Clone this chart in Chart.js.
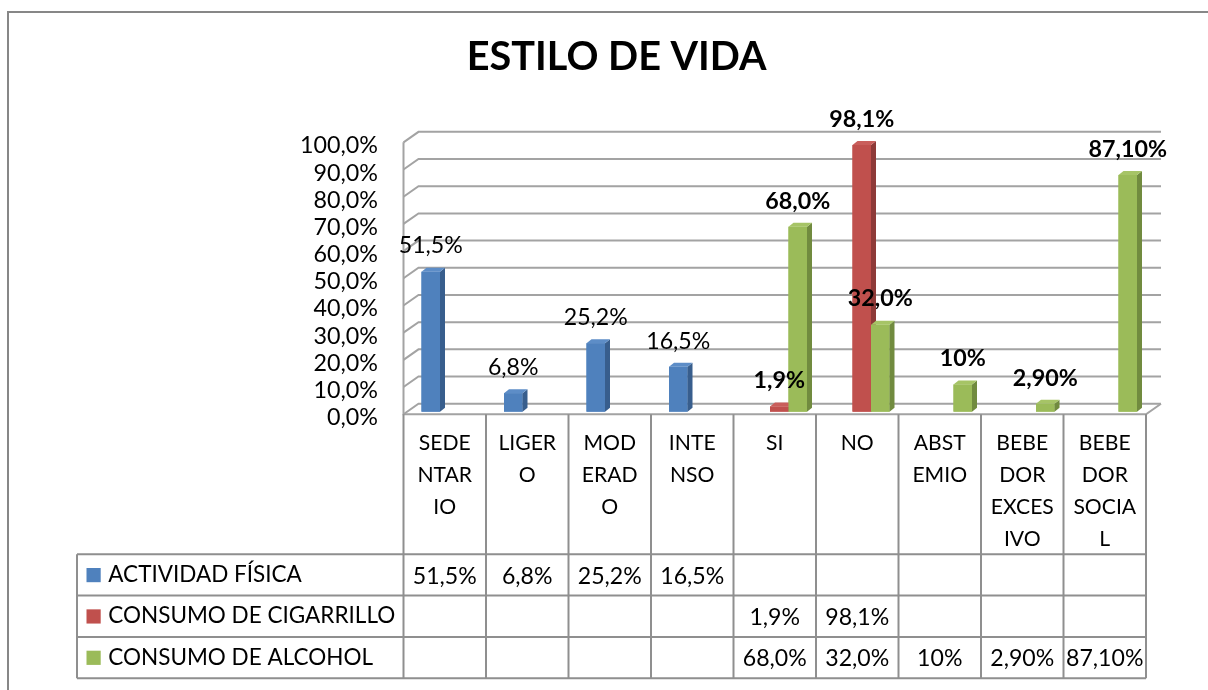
<!DOCTYPE html>
<html>
<head>
<meta charset="utf-8">
<script src="https://cdn.jsdelivr.net/npm/chart.js@4.4.1/dist/chart.umd.min.js"></script>
<style>
html,body{margin:0;padding:0;background:#fff;}
canvas{display:block;}
</style>
</head>
<body>
<canvas id="c" width="1208" height="690"></canvas>
<script>
// ---------------- DATA ----------------
const chartTitle = "ESTILO DE VIDA";
const categories = [
  ["SEDE","NTAR","IO"], ["LIGER","O"], ["MOD","ERAD","O"], ["INTE","NSO"],
  ["SI"], ["NO"], ["ABST","EMIO"], ["BEBE","DOR","EXCES","IVO"], ["BEBE","DOR","SOCIA","L"]
];
const seriesNames = ["ACTIVIDAD FÍSICA", "CONSUMO DE CIGARRILLO", "CONSUMO DE ALCOHOL"];
const actividadFisica   = [51.5, 6.8, 25.2, 16.5, null, null, null, null, null];
const consumoCigarrillo = [null, null, null, null, 1.9, 98.1, null, null, null];
const consumoAlcohol    = [null, null, null, null, 68.0, 32.0, 10, 2.9, 87.1];
const actividadLabels   = ["51,5%", "6,8%", "25,2%", "16,5%", "", "", "", "", ""];
const cigarrilloLabels  = ["", "", "", "", "1,9%", "98,1%", "", "", ""];
const alcoholLabels     = ["", "", "", "", "68,0%", "32,0%", "10%", "2,90%", "87,10%"];
const yTickLabels = ["0,0%","10,0%","20,0%","30,0%","40,0%","50,0%","60,0%","70,0%","80,0%","90,0%","100,0%"];

// ---------------- STYLE ----------------
const FAMILY = 'Lato, "Open Sans", sans-serif';
const frontColors = ["#4f81bd", "#c0504d", "#9bbb59"];
const sideColors  = ["#385e8d", "#8e3a38", "#718b3f"];
const topColors   = ["#5d8dc7", "#c95e5b", "#a6c466"];
const labelBold   = [false, true, true];
const seriesLabels = [actividadLabels, cigarrilloLabels, alcoholLabels];

const mctx = document.createElement('canvas').getContext('2d');
function fitSize(text, target, weight) {
  mctx.font = weight + ' 100px ' + FAMILY;
  return 100 * target / mctx.measureText(text).width;
}
const titleSize  = fitSize(chartTitle, 300, 'bold');
const tickSize   = fitSize("100,0%", 78, 'normal');
const rowSize    = fitSize(seriesNames[1], 287, 'normal');
const headSize   = fitSize("SEDE", 52, 'normal');
const valSize    = fitSize("51,5%", 64, 'normal');
const labNSize   = fitSize("51,5%", 64, 'normal');
const labBSize   = fitSize("87,10%", 78.5, 'bold');

const WALL = {fx: -4.5, fy: 2.5, bx: 10.5, by: -8};
const BAR3D = {dx: 5, dy: -4};

const deco = {
  id: 'deco',
  beforeDraw(chart) {
    const ctx = chart.ctx;
    ctx.save();
    ctx.fillStyle = '#fff';
    ctx.fillRect(0, 0, chart.width, chart.height);
    ctx.strokeStyle = '#878787';
    ctx.lineWidth = 2;
    ctx.beginPath();
    ctx.moveTo(8, chart.height); ctx.lineTo(8, 12); ctx.lineTo(chart.width, 12);
    ctx.stroke();
    ctx.fillStyle = '#000';
    ctx.font = 'bold ' + titleSize + 'px ' + FAMILY;
    ctx.textAlign = 'center';
    ctx.textBaseline = 'alphabetic';
    ctx.fillText(chartTitle, 616.7, 70);
    ctx.restore();
  },
  beforeDatasetsDraw(chart) {
    const {ctx, chartArea: {left, right}, scales: {y}} = chart;
    ctx.save();
    ctx.strokeStyle = '#a3a3a3';
    ctx.lineWidth = 2;
    y.ticks.forEach(t => {
      const py = y.getPixelForValue(t.value);
      ctx.beginPath();
      ctx.moveTo(left + WALL.fx, py + WALL.fy);
      ctx.lineTo(left + WALL.bx, py + WALL.by);
      ctx.lineTo(right + WALL.bx, py + WALL.by);
      ctx.stroke();
    });
    const y0 = y.getPixelForValue(0), y1 = y.getPixelForValue(100);
    ctx.beginPath();
    ctx.moveTo(left + WALL.fx, y1 + WALL.fy);
    ctx.lineTo(left + WALL.fx, y0 + WALL.fy);
    ctx.lineTo(right + WALL.fx, y0 + WALL.fy);
    ctx.lineTo(right + WALL.bx, y0 + WALL.by);
    ctx.stroke();
    ctx.restore();
  },
  afterDatasetsDraw(chart) {
    const ctx = chart.ctx;
    // 3D faces, drawn series by series so the next series' front covers previous side
    chart.data.datasets.forEach((ds, i) => {
      const meta = chart.getDatasetMeta(i);
      meta.data.forEach((el, j) => {
        if (ds.data[j] == null) return;
        const {x, y, base, width} = el.getProps(['x', 'y', 'base', 'width'], true);
        el.draw(ctx);
        const l = x - width / 2, r = x + width / 2;
        ctx.save();
        ctx.fillStyle = sideColors[i];
        ctx.beginPath();
        ctx.moveTo(r, y); ctx.lineTo(r + BAR3D.dx, y + BAR3D.dy);
        ctx.lineTo(r + BAR3D.dx, base + BAR3D.dy); ctx.lineTo(r, base);
        ctx.closePath(); ctx.fill();
        ctx.fillStyle = topColors[i];
        ctx.beginPath();
        ctx.moveTo(l, y); ctx.lineTo(l + BAR3D.dx, y + BAR3D.dy);
        ctx.lineTo(r + BAR3D.dx, y + BAR3D.dy); ctx.lineTo(r, y);
        ctx.closePath(); ctx.fill();
        ctx.restore();
      });
    });
    // data labels
    ctx.save();
    ctx.fillStyle = '#000';
    ctx.textAlign = 'center';
    ctx.textBaseline = 'alphabetic';
    chart.data.datasets.forEach((ds, i) => {
      const meta = chart.getDatasetMeta(i);
      ctx.font = (labelBold[i] ? 'bold ' + labBSize : labNSize) + 'px ' + FAMILY;
      meta.data.forEach((el, j) => {
        if (ds.data[j] == null) return;
        const {x, y} = el.getProps(['x', 'y'], true);
        ctx.fillText(seriesLabels[i][j], x, y - 18.3);
      });
    });
    ctx.restore();

    // data table
    const xs = chart.scales.x;
    const {left, right, bottom} = chart.chartArea;
    const n = categories.length;
    const cw = (right - left) / n;
    const top = bottom + WALL.fy;
    const headH = 140, rowH = 41.35, tableLeft = 77;
    const tBottom = top + headH + 3 * rowH;
    const colX = i => xs.getPixelForValue(i) - cw / 2 + WALL.fx;
    ctx.save();
    ctx.strokeStyle = '#8f8f8f';
    ctx.lineWidth = 2;
    ctx.beginPath();
    for (let i = 0; i <= n; i++) {
      const cx = i < n ? colX(i) : colX(n - 1) + cw;
      ctx.moveTo(cx, top); ctx.lineTo(cx, tBottom);
    }
    for (let r = 0; r <= 3; r++) {
      const ry = top + headH + r * rowH;
      ctx.moveTo(tableLeft, ry); ctx.lineTo(colX(n - 1) + cw, ry);
    }
    ctx.moveTo(tableLeft, top + headH); ctx.lineTo(tableLeft, tBottom);
    ctx.stroke();

    ctx.fillStyle = '#000';
    ctx.textBaseline = 'alphabetic';
    ctx.textAlign = 'center';
    ctx.font = headSize + 'px ' + FAMILY;
    categories.forEach((lines, i) => {
      const cx = colX(i) + cw / 2;
      lines.forEach((ln, k) => ctx.fillText(ln, cx, top + 36 + k * 32));
    });
    ctx.font = valSize + 'px ' + FAMILY;
    seriesLabels.forEach((labs, r) => {
      const ry = top + headH + r * rowH;
      labs.forEach((t, i) => {
        if (!t) return;
        ctx.fillText(t, colX(i) + cw / 2, ry + 29.3);
      });
    });
    ctx.textAlign = 'left';
    ctx.font = rowSize + 'px ' + FAMILY;
    seriesNames.forEach((name, r) => {
      const ry = top + headH + r * rowH;
      ctx.fillStyle = frontColors[r];
      ctx.fillRect(86.5, ry + 13.8, 14.2, 14.2);
      ctx.fillStyle = '#000';
      ctx.fillText(name, 108.3, ry + 27.6);
    });
    ctx.restore();
  }
};

Chart.defaults.font.family = FAMILY;
new Chart(document.getElementById('c'), {
  type: 'bar',
  data: {
    labels: categories,
    datasets: [
      {label: seriesNames[0], data: actividadFisica, backgroundColor: frontColors[0]},
      {label: seriesNames[1], data: consumoCigarrillo, backgroundColor: frontColors[1]},
      {label: seriesNames[2], data: consumoAlcohol, backgroundColor: frontColors[2]}
    ]
  },
  options: {
    responsive: false,
    animation: false,
    devicePixelRatio: 1,
    layout: {padding: {top: 139.85, right: 57.5, left: 0, bottom: 0}},
    datasets: {bar: {categoryPercentage: 0.6727, barPercentage: 1, borderWidth: 0}},
    plugins: {legend: {display: false}, title: {display: false}, tooltip: {enabled: false}},
    scales: {
      x: {
        grid: {display: false, drawTicks: false},
        border: {display: false},
        ticks: {display: false},
        afterFit: s => { s.height = 278.3; }
      },
      y: {
        min: 0, max: 100,
        grid: {display: false, drawTicks: false},
        border: {display: false},
        ticks: {
          stepSize: 10, autoSkip: false, padding: 30, labelOffset: 6, color: '#000',
          font: {size: tickSize, family: FAMILY},
          callback: (v, i) => yTickLabels[i]
        },
        afterFit: s => { s.width = 408; }
      }
    }
  },
  plugins: [deco]
});
</script>
</body>
</html>
